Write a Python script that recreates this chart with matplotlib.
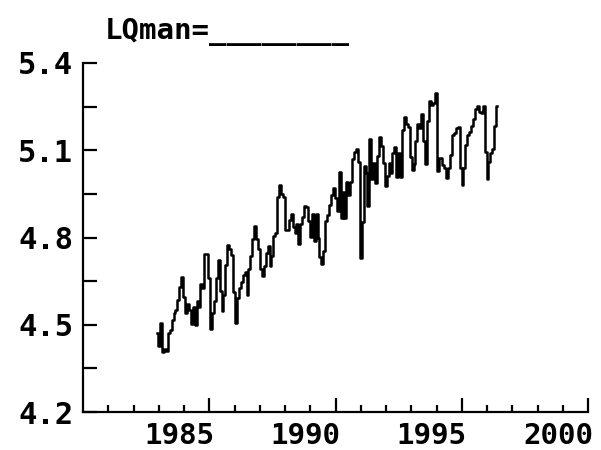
import numpy as np
import matplotlib
matplotlib.use("Agg")
import matplotlib.pyplot as plt
from matplotlib.transforms import ScaledTranslation


# LQman (roughly monthly)
lqman = [
    4.473, 4.428, 4.507, 4.405, 4.416, 4.410, 4.472, 4.483, 4.517, 4.540,
    4.551, 4.585, 4.630, 4.664, 4.596, 4.539, 4.573, 4.550, 4.504, 4.561,
    4.498, 4.583, 4.560, 4.640, 4.628, 4.742, 4.742, 4.662, 4.486, 4.542,
    4.582, 4.661, 4.724, 4.615, 4.547, 4.604, 4.706, 4.774, 4.762, 4.740,
    4.614, 4.506, 4.591, 4.625, 4.648, 4.670, 4.682, 4.602, 4.693, 4.738,
    4.795, 4.840, 4.794, 4.760, 4.692, 4.669, 4.703, 4.748, 4.770, 4.702,
    4.736, 4.804, 4.815, 4.940, 4.980, 4.951, 4.940, 4.826, 4.826, 4.860,
    4.882, 4.836, 4.814, 4.847, 4.779, 4.847, 4.870, 4.909, 4.904, 4.858,
    4.801, 4.880, 4.789, 4.880, 4.800, 4.732, 4.709, 4.754, 4.856, 4.879,
    4.913, 4.947, 4.969, 4.935, 4.890, 5.026, 4.866, 4.957, 4.866, 4.991,
    4.945, 4.991, 5.070, 5.093, 5.104, 5.058, 4.729, 4.853, 5.046, 5.023,
    4.910, 5.137, 5.000, 5.057, 4.989, 5.079, 5.147, 5.113, 5.056, 4.976,
    5.010, 5.056, 5.021, 5.089, 5.112, 5.009, 5.089, 5.009, 5.168, 5.213,
    5.190, 5.179, 5.076, 5.031, 5.053, 5.133, 5.189, 5.178, 5.223, 5.132,
    5.052, 5.200, 5.268, 5.256, 5.262, 5.296, 5.029, 5.074, 5.074, 5.051,
    5.039, 5.005, 5.039, 5.084, 5.152, 5.158, 5.175, 5.180, 5.038, 4.981,
    5.038, 5.117, 5.151, 5.162, 5.185, 5.207, 5.241, 5.252, 5.230, 5.229,
    5.252, 5.093, 5.002, 5.058, 5.092, 5.104, 5.183, 5.251,
]
t_start, t_end = 1982.94, 1996.4
years = np.linspace(t_start, t_end, len(lqman))

y_ticks = [4.2, 4.5, 4.8, 5.1, 5.4]
y_minor = [4.35, 4.65, 4.95, 5.25]
x_ticks = [1985, 1990, 1995, 2000]
x_minor = [y for y in range(1981, 2000) if y % 5 != 0]

font = {'family': 'DejaVu Sans Mono', 'weight': 'bold'}

fig = plt.figure(figsize=(6.01, 4.5), dpi=100)
ax = fig.add_axes([83/601, 1 - 412/450, 505/601, 349/450])

ax.plot(years, lqman, color='black', lw=1.8, drawstyle='steps-mid')

ax.set_xlim(1980, 2000)
ax.set_ylim(4.2, 5.4)
ax.spines['top'].set_visible(False)
ax.spines['right'].set_visible(False)
for s in ['left', 'bottom']:
    ax.spines[s].set_linewidth(1.6)

ax.set_yticks(y_ticks)
ax.set_yticks(y_minor, minor=True)
ax.set_yticklabels(['%.1f' % v for v in y_ticks], fontdict=font, fontsize=22)
ax.set_xticks(x_ticks)
ax.set_xticks(x_minor, minor=True)
ax.set_xticklabels([str(v) for v in x_ticks], fontdict=font, fontsize=21, ha='right')

ax.tick_params(axis='y', which='both', direction='in', length=10, width=1.6, pad=7)
ax.tick_params(axis='x', which='major', direction='in', length=10, width=1.6, pad=7)
ax.tick_params(axis='x', which='minor', direction='in', length=5, width=1.6)

offset = ScaledTranslation(5/100, 0, fig.dpi_scale_trans)
for lab in ax.get_xticklabels():
    lab.set_transform(lab.get_transform() + offset)

fig.text(105/601, 1 - 32/450, 'LQman=' + '_' * 8, fontdict=font, fontsize=21,
         ha='left', va='center')

plt.savefig('out.png', dpi=100)
